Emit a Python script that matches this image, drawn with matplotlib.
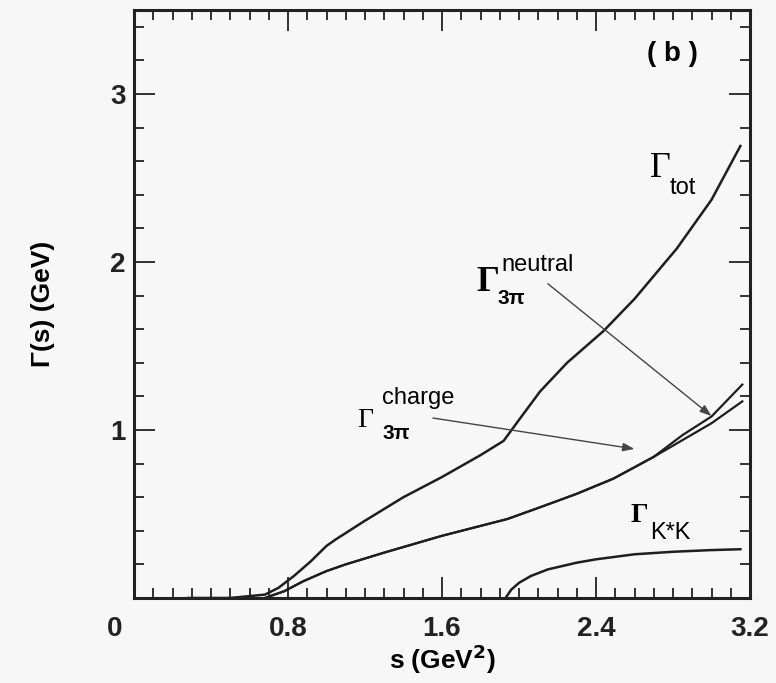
import numpy as np
import matplotlib.pyplot as plt
from matplotlib.ticker import MultipleLocator
from matplotlib.transforms import ScaledTranslation

# total width
s_tot = [0.28, 0.5, 0.68, 0.75, 0.83, 0.92, 1.0, 1.05, 1.2, 1.4, 1.6, 1.8, 1.92, 2.0, 2.11, 2.25, 2.44, 2.6, 2.82, 3.0, 3.15]
g_tot = [0.0, 0.0, 0.02, 0.06, 0.13, 0.22, 0.31, 0.35, 0.46, 0.60, 0.72, 0.85, 0.935, 1.06, 1.23, 1.40, 1.59, 1.78, 2.08, 2.37, 2.69]

# 3 pi channels
s_3pi = [0.68, 0.78, 0.88, 1.0, 1.1, 1.3, 1.6, 1.94, 2.11, 2.3, 2.49, 2.7, 2.85, 3.0, 3.16]
g_charge = [0.0, 0.04, 0.10, 0.16, 0.20, 0.27, 0.37, 0.47, 0.54, 0.62, 0.71, 0.84, 0.94, 1.04, 1.17]
g_neutral = [0.0, 0.04, 0.10, 0.16, 0.20, 0.27, 0.37, 0.47, 0.54, 0.62, 0.71, 0.84, 0.97, 1.08, 1.27]

# K* K channel
s_kk = [1.93, 1.96, 2.0, 2.06, 2.15, 2.3, 2.4, 2.6, 2.8, 3.0, 3.15]
g_kk = [0.0, 0.05, 0.09, 0.13, 0.17, 0.21, 0.23, 0.26, 0.275, 0.285, 0.29]

x_ticks = [0, 0.8, 1.6, 2.4, 3.2]
x_ticklabels = ["0", "0.8", "1.6", "2.4", "3.2"]
y_ticks = [1, 2, 3]

bg = "#f7f7f7"
plt.rcParams['font.family'] = ['Liberation Sans', 'DejaVu Sans']

fig = plt.figure(figsize=(7.76, 6.83), dpi=100, facecolor=bg)
ax = fig.add_axes([0.1727, 0.1245, 0.7938, 0.861], facecolor=bg)

lc = "#1e1e1e"
ax.plot(s_tot, g_tot, color=lc, lw=1.8)
ax.plot(s_3pi, g_charge, color=lc, lw=1.6)
ax.plot(s_3pi, g_neutral, color=lc, lw=1.6)
ax.plot(s_kk, g_kk, color=lc, lw=1.8)

ax.set_xlim(0, 3.2)
ax.set_ylim(0, 3.5)
ax.set_xticks(x_ticks)
ax.set_xticklabels(x_ticklabels)
ax.set_yticks(y_ticks)
ax.xaxis.set_minor_locator(MultipleLocator(0.1))
ax.yaxis.set_minor_locator(MultipleLocator(0.2))
ax.tick_params(which='both', direction='in', top=True, right=True, width=1.3, colors='#222')
ax.tick_params(which='major', length=15)
ax.tick_params(which='minor', length=7)
ax.tick_params(axis='x', pad=13)
ax.tick_params(axis='y', pad=6)
for lab in ax.get_xticklabels() + ax.get_yticklabels():
    lab.set_fontsize(20)
    lab.set_fontweight('bold')
    lab.set_color('#222')
# the "0" sits left of its tick
ax.get_xticklabels()[0].set_transform(ax.get_xticklabels()[0].get_transform()
                                      + ScaledTranslation(-0.19, 0, fig.dpi_scale_trans))
for sp in ax.spines.values():
    sp.set_linewidth(2.2)
    sp.set_color('#222')

ax.set_xlabel("s (GeV$^\\mathbf{2}$)", fontsize=19, fontweight='bold', labelpad=0)
ax.set_ylabel("Γ(s) (GeV)", fontsize=19, fontweight='bold', labelpad=40)

serif = ['Liberation Serif', 'DejaVu Serif']
ax.text(2.665, 3.24, "( b )", fontsize=20, fontweight='bold', va='center', ha='left')

ax.text(2.68, 2.506, "Γ", fontsize=26, family=serif, ha='left', va='baseline')
ax.text(2.785, 2.405, "tot", fontsize=17, ha='left', va='baseline')

ax.text(1.78, 1.827, "Γ", fontsize=26, family=serif, fontweight='bold', ha='left', va='baseline')
ax.text(1.91, 1.946, "neutral", fontsize=17, ha='left', va='baseline')
ax.text(1.89, 1.75, "3π", fontsize=15, fontweight='bold', ha='left', va='baseline')

ax.text(1.16, 1.018, "Γ", fontsize=20, family=serif, ha='left', va='baseline')
ax.text(1.29, 1.155, "charge", fontsize=17, ha='left', va='baseline')
ax.text(1.29, 0.946, "3π", fontsize=15, fontweight='bold', ha='left', va='baseline')

ax.text(2.58, 0.452, "Γ", fontsize=20, family=serif, fontweight='bold', ha='left', va='baseline')
ax.text(2.68, 0.35, "K*K", fontsize=17, ha='left', va='baseline')

arrow = dict(arrowstyle='-|>,head_length=0.7,head_width=0.25', color='#444', lw=1.0,
             shrinkA=0, shrinkB=0)
ax.annotate("", xy=(3.0, 1.083), xytext=(2.15, 1.87), arrowprops=arrow)
ax.annotate("", xy=(2.60, 0.887), xytext=(1.553, 1.071), arrowprops=arrow)

fig.savefig("out.png", dpi=100, facecolor=bg)
